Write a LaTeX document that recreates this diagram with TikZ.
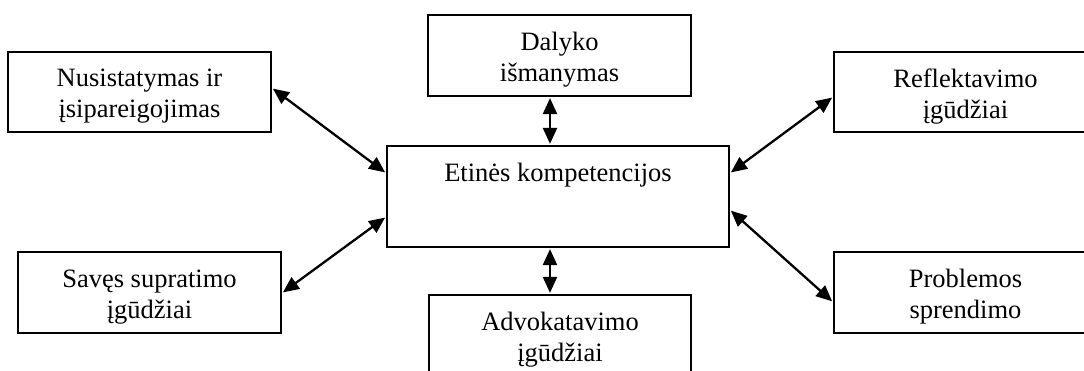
\documentclass[tikz,border=0pt]{standalone}
\usepackage{fontspec}
\setmainfont{Liberation Serif}
\usetikzlibrary{arrows.meta}
\begin{document}
\begin{tikzpicture}[x=1pt,y=-1pt,
  txt/.style={font=\fontsize{26.5}{31}\selectfont, align=center, inner sep=0pt},
  box/.style={draw, line width=2.2pt, minimum width=263pt, minimum height=81pt, inner sep=0pt},
  lab/.style={txt, yshift=-4.5pt},
  link/.style={line width=2.3pt, {Triangle[length=16pt,width=14pt]}-{Triangle[length=16pt,width=14pt]}, shorten <=1pt, shorten >=1pt}]
\useasboundingbox (0,0) rectangle (1084,371);
\clip (0,0) rectangle (1084,371);
\node[box, minimum height=80pt, label={[lab]center:Nusistatymas ir\\įsipareigojimas}] (lt) at (139.5,92) {};
\node[box, label={[lab]center:Savęs supratimo\\įgūdžiai}] (lb) at (149.5,292.5) {};
\node[box, label={[lab]center:Dalyko\\išmanymas}] (top) at (559.5,55.5) {};
\node[box, minimum width=342pt, minimum height=101pt] (c) at (558,196.5) {};
\node[txt, anchor=base] (ctext) at (558,182) {Etinės kompetencijos};
\node[box, minimum width=262pt, label={[lab]center:Advokatavimo\\įgūdžiai}] (bot) at (560,335.5) {};
\node[box, minimum height=80pt, label={[lab]center:Reflektavimo\\įgūdžiai}] (rt) at (965.5,92) {};
\node[box, label={[lab]center:Problemos\\sprendimo}] (rb) at (965.5,292.5) {};
\draw[link] ([yshift=4pt]lt.east) -- ([yshift=23.5pt]c.west);
\draw[link] ([yshift=-0.5pt]lb.east) -- ([yshift=-20.5pt]c.west);
\draw[link] ([xshift=-9.5pt]top.south) -- ([xshift=-8pt]c.north);
\draw[link] ([xshift=-8pt]c.south) -- ([xshift=-10pt]bot.north);
\draw[link] ([yshift=23.5pt]c.east) -- ([yshift=-5pt]rt.west);
\draw[link] ([yshift=-13.5pt]c.east) -- ([yshift=-9.5pt]rb.west);
\end{tikzpicture}
\end{document}
